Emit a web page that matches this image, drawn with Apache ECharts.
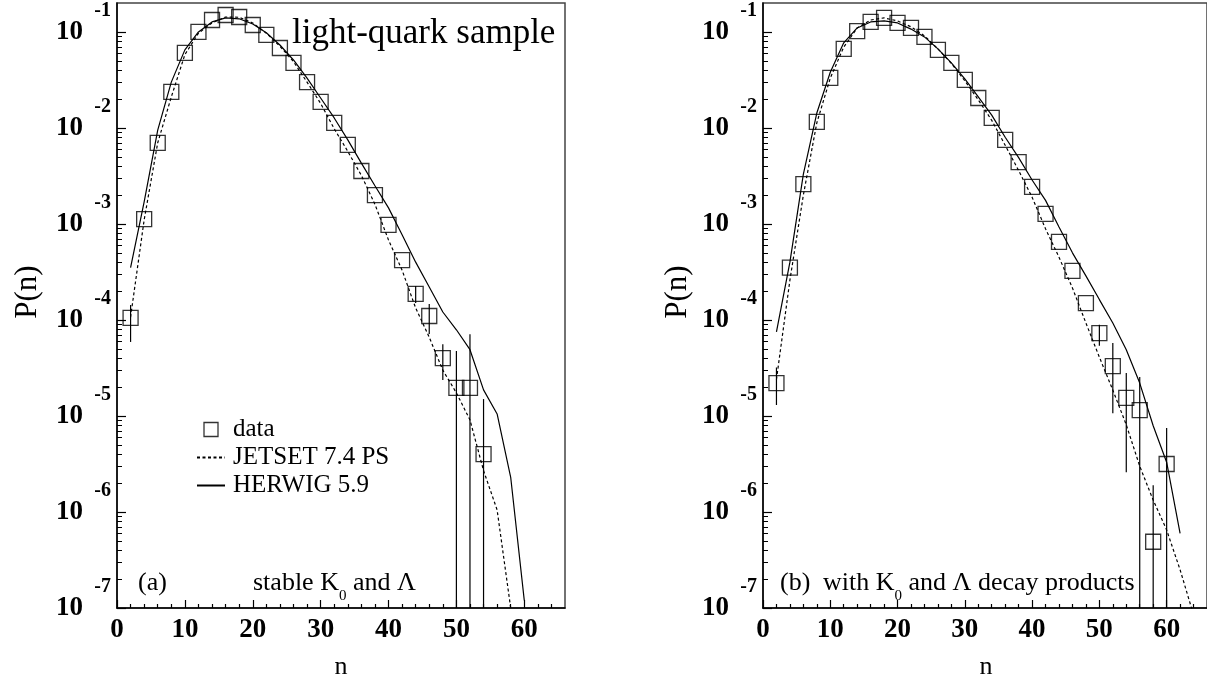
<!DOCTYPE html>
<html>
<head>
<meta charset="utf-8">
<title>P(n) light-quark sample</title>
<script src="https://cdn.jsdelivr.net/npm/echarts@6/dist/echarts.min.js"></script>
<style>
  html, body { margin: 0; padding: 0; background: #fff; }
  #chart { width: 1207px; height: 681px; }
</style>
</head>
<body>
<div id="chart"></div>
<script>
// (a) stable K0 and Lambda
const nDataA = [2, 4, 6, 8, 10, 12, 14, 16, 18, 20, 22, 24, 26, 28, 30, 32, 34, 36, 38, 40, 42, 44, 46, 48, 50, 52, 54];
const dataA = [1.05e-4, 1.12e-3, 6.98e-3, 0.0237, 0.0604, 0.100, 0.133, 0.150, 0.143, 0.118, 0.093, 0.068, 0.0475, 0.030,
  0.0187, 0.0113, 6.65e-3, 3.56e-3, 2.0e-3, 9.8e-4, 4.2e-4, 1.87e-4, 1.10e-4, 4.0e-5, 1.96e-5, 1.96e-5, 4.0e-6];
const errNA = [2, 44, 46, 48, 50, 52, 54];
const errHiA = [1.43e-4, 2.26e-4, 1.47e-4, 5.6e-5, 4.75e-5, 7.1e-5, 1.5e-5];
const errLoA = [5.9e-5, 1.5e-4, 7.15e-5, 2.37e-5, 1e-7, 1e-7, 1e-7];
const nJetsetA = [2, 4, 6, 8, 10, 12, 14, 16, 18, 20, 22, 24, 26, 28, 30, 32, 34, 36, 38, 40, 42, 44, 46, 48, 50, 52, 54, 56, 58];
const jetsetA = [1.07e-4, 1.1e-3, 7.0e-3, 0.021, 0.058, 0.097, 0.124, 0.143, 0.142, 0.124, 0.097, 0.071, 0.049, 0.030,
  0.018, 0.0098, 5.7e-3, 3.2e-3, 1.6e-3, 6.8e-4, 3.3e-4, 1.33e-4, 6.6e-5, 3.0e-5, 1.74e-5, 9.1e-6, 2.7e-6, 1.05e-6, 1.0e-7];
const nHerwigA = [2, 4, 6, 8, 10, 12, 14, 16, 18, 20, 22, 24, 26, 28, 30, 32, 34, 36, 38, 40, 42, 44, 46, 48, 50, 52, 54, 56, 58, 60];
const herwigA = [3.5e-4, 1.7e-3, 9.5e-3, 0.030, 0.065, 0.100, 0.127, 0.140, 0.137, 0.121, 0.098, 0.073, 0.051, 0.033,
  0.0205, 0.0127, 7.5e-3, 4.3e-3, 2.5e-3, 1.47e-3, 7.7e-4, 4.0e-4, 2.2e-4, 1.21e-4, 7.9e-5, 4.9e-5, 1.87e-5, 1.05e-5, 2.3e-6, 1.2e-7];

// (b) with K0 and Lambda decay products
const nDataB = [2, 4, 6, 8, 10, 12, 14, 16, 18, 20, 22, 24, 26, 28, 30, 32, 34, 36, 38, 40, 42, 44, 46, 48, 50, 52, 54, 56, 58, 60];
const dataB = [2.2e-5, 3.5e-4, 2.6e-3, 0.01155, 0.0332, 0.0665, 0.102, 0.127, 0.140, 0.124, 0.110, 0.0887, 0.065, 0.0475,
  0.0316, 0.0205, 0.0127, 7.5e-3, 4.4e-3, 2.43e-3, 1.27e-3, 6.5e-4, 3.24e-4, 1.5e-4, 7.3e-5, 3.3e-5, 1.54e-5, 1.15e-5, 4.9e-7, 3.16e-6];
const errNB = [2, 50, 52, 54, 56, 58, 60];
const errHiB = [3.2e-5, 8.9e-5, 5.75e-5, 2.8e-5, 2.55e-5, 1.9e-6, 7.5e-6];
const errLoB = [1.3e-5, 5.4e-5, 1.07e-5, 2.6e-6, 1e-7, 1e-7, 1e-7];
const nJetsetB = [2, 4, 6, 8, 10, 12, 14, 16, 18, 20, 22, 24, 26, 28, 30, 32, 34, 36, 38, 40, 42, 44, 46, 48, 50, 52, 54, 56, 58, 60, 62, 64];
const jetsetB = [2.4e-5, 2.6e-4, 2.0e-3, 0.0113, 0.033, 0.0695, 0.110, 0.133, 0.140, 0.130, 0.113, 0.091, 0.0665, 0.047,
  0.031, 0.0196, 0.012, 6.6e-3, 3.6e-3, 1.9e-3, 8.9e-4, 4.5e-4, 2.15e-4, 9.3e-5, 4.1e-5, 1.86e-5, 8.1e-6, 3.0e-6, 1.33e-6, 6.5e-7, 2.5e-7, 8.5e-8];
const nHerwigB = [2, 4, 6, 8, 10, 12, 14, 16, 18, 20, 22, 24, 26, 28, 30, 32, 34, 36, 38, 40, 42, 44, 46, 48, 50, 52, 54, 56, 58, 60, 62];
const herwigB = [7.5e-5, 4.0e-4, 3.3e-3, 0.0143, 0.038, 0.077, 0.110, 0.127, 0.130, 0.124, 0.107, 0.0887, 0.0665, 0.0475,
  0.0324, 0.021, 0.0136, 8.0e-3, 4.9e-3, 2.87e-3, 1.76e-3, 9.3e-4, 5.0e-4, 2.88e-4, 1.63e-4, 9.3e-5, 4.9e-5, 2.2e-5, 7.9e-6, 3.3e-6, 6.0e-7];

// axis ticks
const xMajor = [0, 10, 20, 30, 40, 50, 60];
const xMinor = [2, 4, 6, 8, 12, 14, 16, 18, 22, 24, 26, 28, 32, 34, 36, 38, 42, 44, 46, 48, 52, 54, 56, 58, 62, 64];
const yDecades = [1e-7, 1e-6, 1e-5, 1e-4, 1e-3, 1e-2, 1e-1];
const yMinor = [];
yDecades.slice(0, 6).forEach(function (d) {
  for (let m = 2; m <= 9; m++) yMinor.push(m * d);
});

const SERIF = '"Liberation Serif", "DejaVu Serif", serif';
const chart = echarts.init(document.getElementById('chart'));

function zip(xs, ys) {
  return xs.map(function (x, i) { return [x, ys[i]]; });
}
function zip3(xs, hi, lo) {
  return xs.map(function (x, i) { return [x, hi[i], lo[i]]; });
}

function xAxes(gridIndex) {
  return [{
    type: 'value', gridIndex: gridIndex, min: 0, max: 66, position: 'bottom',
    axisLine: { lineStyle: { color: '#000', width: 1.5 } },
    axisTick: { inside: true, length: 8, customValues: xMajor, lineStyle: { color: '#000', width: 1.2 } },
    axisLabel: {
      customValues: xMajor, margin: 9, color: '#000',
      fontFamily: SERIF, fontWeight: 'bold', fontSize: 27
    },
    splitLine: { show: false }
  }, {
    type: 'value', gridIndex: gridIndex, min: 0, max: 66, position: 'bottom',
    axisLine: { show: false },
    axisTick: { inside: true, length: 4, customValues: xMinor, lineStyle: { color: '#000', width: 1.2 } },
    axisLabel: { show: false },
    splitLine: { show: false }
  }];
}

function yAxes(gridIndex) {
  return [{
    type: 'log', gridIndex: gridIndex, min: 1e-7, max: 0.2, position: 'left',
    axisLine: { show: true, lineStyle: { color: '#000', width: 1.5 } },
    axisTick: { inside: true, length: 9, customValues: yDecades, lineStyle: { color: '#000', width: 1.2 } },
    axisLabel: {
      customValues: yDecades, margin: 6, color: '#000',
      padding: [0, 0, 20, 0],
      formatter: function (v) {
        return '{e|' + Math.round(Math.log10(v)) + '}\n{b|10}';
      },
      rich: {
        e: { fontFamily: SERIF, fontWeight: 'bold', fontSize: 20, lineHeight: 20, align: 'right', color: '#000' },
        b: { fontFamily: SERIF, fontWeight: 'bold', fontSize: 27, lineHeight: 22, align: 'left', color: '#000', padding: [0, 28, 0, 0] }
      }
    },
    splitLine: { show: false }
  }, {
    type: 'log', gridIndex: gridIndex, min: 1e-7, max: 0.2, position: 'left',
    axisLine: { show: false },
    axisTick: { inside: true, length: 5, customValues: yMinor, lineStyle: { color: '#000', width: 1 } },
    axisLabel: { show: false },
    splitLine: { show: false }
  }];
}

function renderErr(params, api) {
  const top = api.coord([api.value(0), api.value(1)]);
  const bot = api.coord([api.value(0), api.value(2)]);
  return {
    type: 'line',
    shape: { x1: top[0], y1: top[1], x2: bot[0], y2: bot[1] },
    style: { stroke: '#000', lineWidth: 1.2 }
  };
}

function panelSeries(xi, yi, data, errs, jetset, herwig) {
  return [{
    name: 'data', type: 'scatter', xAxisIndex: xi, yAxisIndex: yi, data: data,
    symbol: 'rect', symbolSize: 15,
    itemStyle: { color: 'rgba(0,0,0,0)', borderColor: '#000', borderWidth: 1.3 }
  }, {
    name: 'err', type: 'custom', xAxisIndex: xi, yAxisIndex: yi, data: errs,
    renderItem: renderErr, encode: { x: 0, y: [1, 2] }
  }, {
    name: 'JETSET 7.4 PS', type: 'line', xAxisIndex: xi, yAxisIndex: yi, data: jetset,
    symbol: 'none', itemStyle: { color: '#000' },
    lineStyle: { color: '#000', width: 1.2, type: [3, 2.5] }
  }, {
    name: 'HERWIG 5.9', type: 'line', xAxisIndex: xi, yAxisIndex: yi, data: herwig,
    symbol: 'none', itemStyle: { color: '#000' },
    lineStyle: { color: '#000', width: 1.2 }
  }];
}

function txt(x, y, text, size, align) {
  return {
    type: 'text', x: x, y: y,
    style: { text: text, fill: '#000', fontFamily: SERIF, fontSize: size, align: align || 'left', verticalAlign: 'middle' }
  };
}
// text with a lowered "0" subscript
function subText(x, y, text) {
  return {
    type: 'text', x: x, y: y - 13,
    style: {
      text: text, fill: '#000', align: 'left', verticalAlign: 'top',
      rich: {
        t: { fontFamily: SERIF, fontSize: 26, lineHeight: 26, verticalAlign: 'top', fill: '#000' },
        s: { fontFamily: SERIF, fontSize: 15, lineHeight: 34, verticalAlign: 'bottom', fill: '#000' }
      }
    }
  };
}

chart.setOption({
  animation: false,
  backgroundColor: '#fff',
  grid: [
    { left: 117, top: 3, width: 448, height: 605, show: true, borderColor: '#444', borderWidth: 1.5 },
    { left: 763, top: 3, width: 447, height: 605, show: true, borderColor: '#444', borderWidth: 1.5 }
  ],
  xAxis: xAxes(0).concat(xAxes(1)),
  yAxis: yAxes(0).concat(yAxes(1)),
  legend: {
    data: [
      { name: 'data', icon: 'path://M0,0L14,0L14,14L0,14Z', itemStyle: { color: 'rgba(0,0,0,0)', borderColor: '#000', borderWidth: 1.3 } },
      { name: 'JETSET 7.4 PS', itemStyle: { opacity: 0 } },
      { name: 'HERWIG 5.9', itemStyle: { opacity: 0 } }
    ],
    orient: 'vertical', left: 191, top: 412,
    itemWidth: 28, itemHeight: 14, itemGap: 3, selectedMode: false,
    textStyle: { fontFamily: SERIF, fontSize: 25, color: '#000', padding: [0, 0, 0, 3] }
  },
  series: panelSeries(0, 0, zip(nDataA, dataA), zip3(errNA, errHiA, errLoA), zip(nJetsetA, jetsetA), zip(nHerwigA, herwigA))
    .concat(panelSeries(2, 2, zip(nDataB, dataB), zip3(errNB, errHiB, errLoB), zip(nJetsetB, jetsetB), zip(nHerwigB, herwigB))),
  graphic: [
    txt(292, 34, 'light-quark sample', 35),
    txt(138, 583, '(a)', 26),
    subText(253, 583, '{t|stable K}{s|0}{t| and Λ}'),
    txt(780, 583, '(b)', 26),
    subText(823, 583, '{t|with K}{s|0}{t| and Λ decay products}'),
    txt(341, 667, 'n', 26, 'center'),
    txt(986, 667, 'n', 26, 'center'),
    { type: 'text', x: 28, y: 292, rotation: Math.PI / 2,
      style: { text: 'P(n)', fill: '#000', fontFamily: SERIF, fontSize: 31, align: 'center', verticalAlign: 'middle' } },
    { type: 'text', x: 678, y: 292, rotation: Math.PI / 2,
      style: { text: 'P(n)', fill: '#000', fontFamily: SERIF, fontSize: 31, align: 'center', verticalAlign: 'middle' } }
  ]
});
</script>
</body>
</html>
